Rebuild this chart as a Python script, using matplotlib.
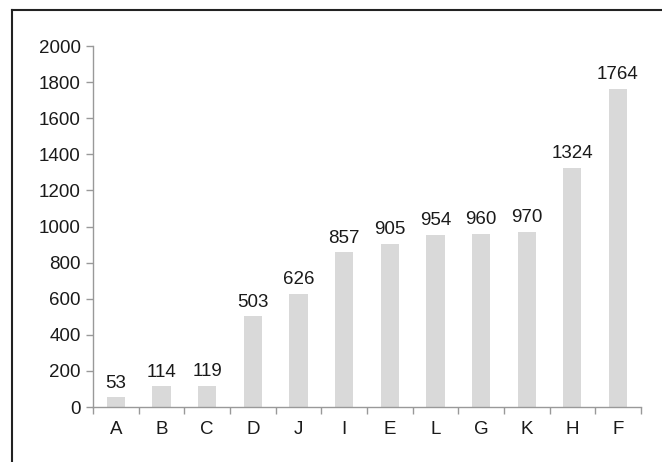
import matplotlib.pyplot as plt
from matplotlib.lines import Line2D
import numpy as np

categories = ["A", "B", "C", "D", "J", "I", "E", "L", "G", "K", "H", "F"]
values = [53, 114, 119, 503, 626, 857, 905, 954, 960, 970, 1324, 1764]
yticks = [0, 200, 400, 600, 800, 1000, 1200, 1400, 1600, 1800, 2000]

plt.rcParams['font.family'] = ['Liberation Sans', 'DejaVu Sans']

fig = plt.figure(figsize=(6.62, 4.62), dpi=100)
ax = fig.add_axes([0.1405, 0.119, 0.8275, 0.7814])

x = np.arange(len(categories))
ax.bar(x, values, width=0.4, color="#d9d9d9", edgecolor="none")
for xi, v in zip(x, values):
    ax.annotate(str(v), (xi, v), xytext=(0, 4), textcoords="offset points",
                ha="center", va="bottom", fontsize=13.5, color="#1a1a1a")

ax.set_xlim(-0.5, len(categories) - 0.5)
ax.set_ylim(0, 2000)
ax.set_yticks(yticks)
ax.set_xticks(x)
ax.set_xticklabels(categories)
ax.set_xticks(np.arange(-0.5, len(categories)), minor=True)
ax.tick_params(axis="x", which="major", length=0, pad=10, labelsize=13.5, labelcolor="#1a1a1a")
ax.tick_params(axis="x", which="minor", length=5, color="#999999", width=1)
ax.tick_params(axis="y", length=5, color="#999999", width=1, pad=4, labelsize=13.5, labelcolor="#1a1a1a")

for s in ["top", "right"]:
    ax.spines[s].set_visible(False)
for s in ["left", "bottom"]:
    ax.spines[s].set_color("#999999")
    ax.spines[s].set_linewidth(1)

# outer frame (left and top edges only)
fig.add_artist(Line2D([12 / 662, 12 / 662], [0, 1 - 10 / 462], color="#222222", lw=1.5))
fig.add_artist(Line2D([12 / 662, 1], [1 - 10 / 462, 1 - 10 / 462], color="#222222", lw=1.5))

fig.savefig("out.png", dpi=100)
